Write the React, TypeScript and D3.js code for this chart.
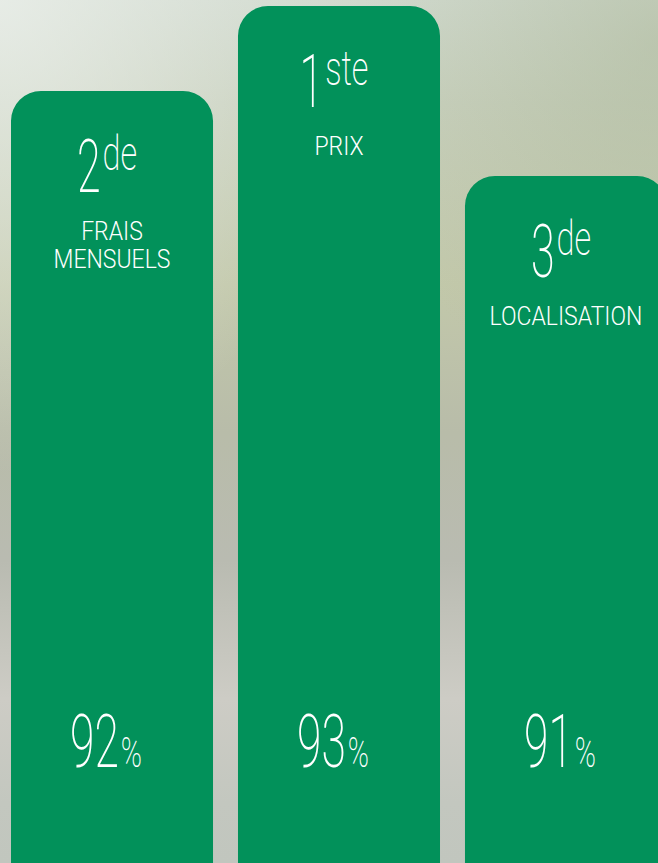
import React, { useEffect, useRef } from "react";
import * as d3 from "d3";

const categories = ["FRAIS MENSUELS", "PRIX", "LOCALISATION"];
const labelLines = [["FRAIS", "MENSUELS"], ["PRIX"], ["LOCALISATION"]];
const ranks = ["2", "1", "3"];
const rankSuffixes = ["de", "ste", "de"];
const values = [92, 93, 91];

const W = 658;
const H = 863;
const GREEN = "#02915a";
const FONT = "Roboto, 'Noto Sans', sans-serif";

export default function App() {
  const ref = useRef<SVGSVGElement | null>(null);

  useEffect(() => {
    document.body.style.margin = "0";
    const svg = d3.select(ref.current);
    svg.selectAll("*").remove();

    const defs = svg.append("defs");
    const bg = defs.append("linearGradient").attr("id", "bgv").attr("x1", 0).attr("y1", 0).attr("x2", 0).attr("y2", 1);
    const stops: [number, string][] = [
      [0, "#d0d9cd"],
      [0.12, "#c8d0bd"],
      [0.33, "#c2c8aa"],
      [0.5, "#b8bca9"],
      [0.65, "#b9bbb1"],
      [0.81, "#cdccc5"],
      [0.93, "#c3c7bf"],
      [1, "#c1c6be"],
    ];
    stops.forEach(([o, c]) => bg.append("stop").attr("offset", o).attr("stop-color", c));

    const rl = defs.append("radialGradient").attr("id", "bgl").attr("cx", 0).attr("cy", 0).attr("r", 0.55);
    rl.append("stop").attr("offset", 0).attr("stop-color", "#eef2ee").attr("stop-opacity", 0.75);
    rl.append("stop").attr("offset", 1).attr("stop-color", "#eef2ee").attr("stop-opacity", 0);

    const rr = defs.append("radialGradient").attr("id", "bgr").attr("cx", 1).attr("cy", 0.05).attr("r", 0.45);
    rr.append("stop").attr("offset", 0).attr("stop-color", "#aab697").attr("stop-opacity", 0.5);
    rr.append("stop").attr("offset", 1).attr("stop-color", "#aab697").attr("stop-opacity", 0);

    svg.append("rect").attr("width", W).attr("height", H).attr("fill", "url(#bgv)");
    svg.append("rect").attr("width", W).attr("height", H).attr("fill", "url(#bgr)");
    svg.append("rect").attr("width", W).attr("height", H).attr("fill", "url(#bgl)");

    const x = d3.scaleBand<string>().domain(categories).range([11, 667]).paddingInner(0.11).paddingOuter(0);
    const y = d3.scaleLinear().domain([91, 93]).range([176, 6]);

    const addText = (
      parent: d3.Selection<SVGGElement, unknown, null, undefined>,
      str: string,
      size: number,
      weight: number,
      sx: number
    ) => {
      const g = parent.append("g");
      const t = g
        .append("text")
        .attr("font-family", FONT)
        .attr("font-size", size)
        .attr("font-weight", weight)
        .attr("fill", "#ffffff")
        .attr("transform", `scale(${sx},1)`)
        .text(str);
      const width = (t.node() as SVGTextElement).getComputedTextLength() * sx;
      return { g, width };
    };

    categories.forEach((c, i) => {
      const x0 = x(c) as number;
      const w = x.bandwidth();
      const top = y(values[i]);
      const r = 30;
      const path = d3.path();
      path.moveTo(x0, H + 2);
      path.lineTo(x0, top + r);
      path.arcTo(x0, top, x0 + r, top, r);
      path.lineTo(x0 + w - r, top);
      path.arcTo(x0 + w, top, x0 + w, top + r, r);
      path.lineTo(x0 + w, H + 2);
      path.closePath();
      svg.append("path").attr("d", path.toString()).attr("fill", GREEN);

      const cx = x0 + w / 2;
      const rankBase = top + 101;

      // rank with superscript suffix
      const rg = svg.append("g");
      const d = addText(rg, ranks[i], 74, 200, 0.58);
      const s = addText(rg, rankSuffixes[i], 48, 200, 0.68);
      const gap = 2;
      const total = d.width + gap + s.width;
      const startX = cx - total / 2 - 5;
      d.g.attr("transform", `translate(${startX},${rankBase})`);
      s.g.attr("transform", `translate(${startX + d.width + gap},${rankBase - 22})`);

      // label lines
      labelLines[i].forEach((line, j) => {
        const lg = svg.append("g");
        const l = addText(lg, line, 25, 300, 0.92);
        l.g.attr("transform", `translate(${cx - l.width / 2},${rankBase + 48 + j * 28})`);
      });

      // percentage
      const pg = svg.append("g");
      const v = addText(pg, String(values[i]), 74, 200, 0.6);
      const p = addText(pg, "%", 42, 200, 0.68);
      const ptotal = v.width + 2 + p.width;
      const px = cx - ptotal / 2 - 6;
      v.g.attr("transform", `translate(${px},767)`);
      p.g.attr("transform", `translate(${px + v.width + 2},767)`);
    });
  }, []);

  return <svg ref={ref} width={W} height={H} style={{ display: "block" }} />;
}
